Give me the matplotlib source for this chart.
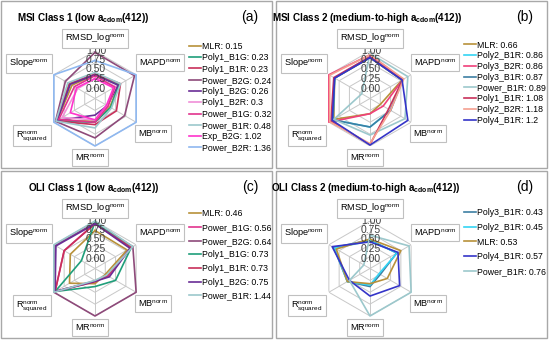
import numpy as np
import matplotlib.pyplot as plt
from matplotlib.patches import Rectangle

plt.rcParams['font.family'] = ['Liberation Sans', 'DejaVu Sans']
plt.rcParams['mathtext.fontset'] = 'custom'
plt.rcParams['mathtext.rm'] = 'Liberation Sans'
plt.rcParams['mathtext.it'] = 'Liberation Sans:italic'
plt.rcParams['mathtext.bf'] = 'Liberation Sans:bold'
plt.rcParams['mathtext.default'] = 'regular'

W, H = 550, 340

categories = ['RMSD_log$^{norm}$', 'MAPD$^{norm}$', 'MB$^{norm}$',
              'MR$^{norm}$', 'R$^{norm}_{squared}$', 'Slope$^{norm}$']
levels = [0.0, 0.25, 0.5, 0.75, 1.0]
level_labels = ['0.00', '0.25', '0.50', '0.75', '1.00']

# values per series: RMSD_log, MAPD, MB, MR, R squared, Slope
a_names = ['MLR', 'Poly1_B1G', 'Poly1_B1R', 'Power_B2G', 'Poly1_B2G',
           'Poly1_B2R', 'Power_B1G', 'Power_B1R', 'Exp_B2G', 'Power_B2R']
a_scores = ['0.15', '0.23', '0.23', '0.24', '0.26', '0.3', '0.32', '0.48', '1.02', '1.36']
a_values = [
    [0.50, 0.58, 0.36, 0.48, 0.92, 0.56],
    [0.50, 0.58, 0.38, 0.50, 0.95, 0.62],
    [0.52, 0.62, 0.52, 0.55, 0.95, 0.62],
    [0.97, 0.96, 0.72, 0.83, 0.96, 0.72],
    [0.50, 0.56, 0.30, 0.35, 0.92, 0.60],
    [0.42, 0.50, 0.30, 0.45, 0.80, 0.42],
    [0.48, 0.48, 0.32, 0.50, 0.88, 0.50],
    [0.55, 0.62, 0.40, 0.62, 0.95, 0.66],
    [0.42, 0.45, 0.28, 0.45, 0.60, 0.45],
    [0.80, 1.00, 1.00, 1.00, 1.00, 1.00],
]

b_names = ['MLR', 'Poly2_B1R', 'Poly3_B2R', 'Poly3_B1R', 'Power_B1R',
           'Poly1_B1R', 'Poly2_B2R', 'Poly4_B1R']
b_scores = ['0.66', '0.86', '0.86', '0.87', '0.89', '1.08', '1.18', '1.2']
b_values = [
    [0.86, 0.78, 0.25, 0.32, 0.88, 0.86],
    [0.88, 0.80, 0.50, 0.60, 0.90, 0.86],
    [0.92, 0.80, 0.32, 0.32, 1.00, 1.00],
    [0.86, 0.78, 0.50, 0.60, 0.90, 0.86],
    [0.95, 0.92, 0.85, 0.77, 0.88, 0.20],
    [0.88, 0.80, 0.45, 0.97, 0.95, 0.88],
    [0.92, 0.82, 0.50, 0.95, 0.98, 0.98],
    [0.86, 0.78, 0.92, 0.98, 0.92, 0.86],
]

c_names = ['MLR', 'Power_B1G', 'Power_B2G', 'Poly1_B1G', 'Poly1_B1R',
           'Poly1_B2G', 'Power_B1R']
c_scores = ['0.46', '0.56', '0.64', '0.73', '0.73', '0.75', '1.44']
c_values = [
    [0.80, 0.78, 0.25, 0.32, 0.62, 0.60],
    [0.95, 0.88, 0.32, 0.26, 0.97, 0.75],
    [0.96, 0.92, 1.00, 1.00, 1.00, 0.97],
    [0.98, 0.88, 0.50, 0.38, 0.97, 0.33],
    [0.94, 0.88, 0.30, 0.28, 0.97, 0.75],
    [0.94, 0.85, 0.35, 0.27, 0.97, 0.95],
    [1.00, 0.92, 0.28, 0.25, 1.00, 1.00],
]

d_names = ['Poly3_B1R', 'Poly2_B1R', 'MLR', 'Poly4_B1R', 'Power_B1R']
d_scores = ['0.43', '0.45', '0.53', '0.57', '0.76']
d_values = [
    [0.60, 0.65, 0.25, 0.38, 0.55, 0.88],
    [0.58, 0.66, 0.22, 0.35, 0.55, 0.86],
    [0.62, 0.75, 0.42, 0.32, 0.55, 0.82],
    [0.56, 0.68, 0.72, 0.58, 0.50, 0.92],
    [0.70, 0.95, 1.00, 1.00, 0.50, 0.15],
]

colors = {
    'MLR': '#b8913a', 'Poly1_B1G': '#1f9e7a', 'Poly1_B1R': '#c8305a',
    'Power_B2G': '#8e4a7a', 'Poly1_B2G': '#6a2d96', 'Poly1_B2R': '#f08fd8',
    'Power_B1G': '#e2338e', 'Power_B1R': '#9cc8cc', 'Exp_B2G': '#ff33cc',
    'Power_B2R': '#8fb8f0', 'Poly2_B1R': '#33d4f4', 'Poly3_B2R': '#f0407a',
    'Poly3_B1R': '#3d7fa3', 'Poly2_B2R': '#f5a090', 'Poly4_B1R': '#3535c8',
}

# label box offsets from radar centre, px (right, down)
label_offsets = [(0, -60), (65, -36), (58, 35), (-5, 59), (-63, 37), (-66, -35)]


def fx(x):
    return x / W


def fy(y):
    return 1 - y / H


def panel(fig, ox, oy, title, tag, names, scores, values, title_x, leg_y, leg_space):
    fig.add_artist(Rectangle((fx(ox + 1), fy(oy + 168)), 271 / W, 167 / H,
                             transform=fig.transFigure, fill=False,
                             ec='#a8a8a8', lw=1))
    fig.text(fx(ox + title_x), fy(oy + 18), title, ha='center', va='center',
             fontsize=7.1, fontweight='bold')
    fig.text(fx(ox + 250), fy(oy + 17), tag, ha='center', va='center', fontsize=10)

    cx, cy, R = ox + 95, oy + 98.5, 47.5
    ax = fig.add_axes([fx(cx - R), fy(cy + R), 2 * R / W, 2 * R / H], projection='polar')
    ax.set_theta_offset(np.pi / 2)
    ax.set_theta_direction(-1)
    ax.set_ylim(0, 1)
    ax.axis('off')

    theta = np.linspace(0, 2 * np.pi, len(categories), endpoint=False)
    th = np.append(theta, theta[0])
    for lv in levels[1:]:
        ax.plot(th, [lv] * len(th), color='#c8c8c8', lw=0.7, zorder=1)
    for t in theta:
        ax.plot([t, t], [0, 1], color='#c8c8c8', lw=0.7, zorder=1)

    handles = []
    for name, score, vals in zip(names, scores, values):
        v = np.append(vals, vals[0])
        ln, = ax.plot(th, v, color=colors[name], lw=1.2, zorder=2,
                      label=f'{name}: {score}', clip_on=False)
        handles.append(ln)

    for lv, lab in zip(levels, level_labels):
        ax.text(0.5 + 1 / (2 * R), 0.5 + (10 + 38 * lv) / (2 * R), lab,
                transform=ax.transAxes, ha='center', va='center', fontsize=7.5,
                color='#404040', zorder=3)

    for cat, (dx, dy) in zip(categories, label_offsets):
        ax.text(0.5 + dx / (2 * R), 0.5 - dy / (2 * R), cat, transform=ax.transAxes,
                ha='center', va='center', fontsize=6.6,
                bbox=dict(boxstyle='square,pad=0.32', fc='white', ec='#c0c0c0', lw=0.8))

    fig.legend(handles=handles, loc='upper left',
               bbox_to_anchor=(fx(ox + 189), fy(oy + leg_y)),
               frameon=False, fontsize=6.3, handlelength=1.35, handletextpad=0.15,
               labelspacing=leg_space, borderpad=0, borderaxespad=0)


fig = plt.figure(figsize=(5.5, 3.4), dpi=100)
panel(fig, 0, 0, 'MSI Class 1 (low a$_{\\mathbf{cdom}}$(412))', '(a)',
      a_names, a_scores, a_values, 83, 42, 0.26)
panel(fig, 275, 0, 'MSI Class 2 (medium-to-high a$_{\\mathbf{cdom}}$(412))', '(b)',
      b_names, b_scores, b_values, 92, 40.5, 0.2)
panel(fig, 0, 170, 'OLI Class 1 (low a$_{\\mathbf{cdom}}$(412))', '(c)',
      c_names, c_scores, c_values, 94, 39.5, 0.53)
panel(fig, 275, 170, 'OLI Class 2 (medium-to-high a$_{\\mathbf{cdom}}$(412))', '(d)',
      d_names, d_scores, d_values, 91, 38, 0.66)

fig.savefig('out.png', dpi=100)
